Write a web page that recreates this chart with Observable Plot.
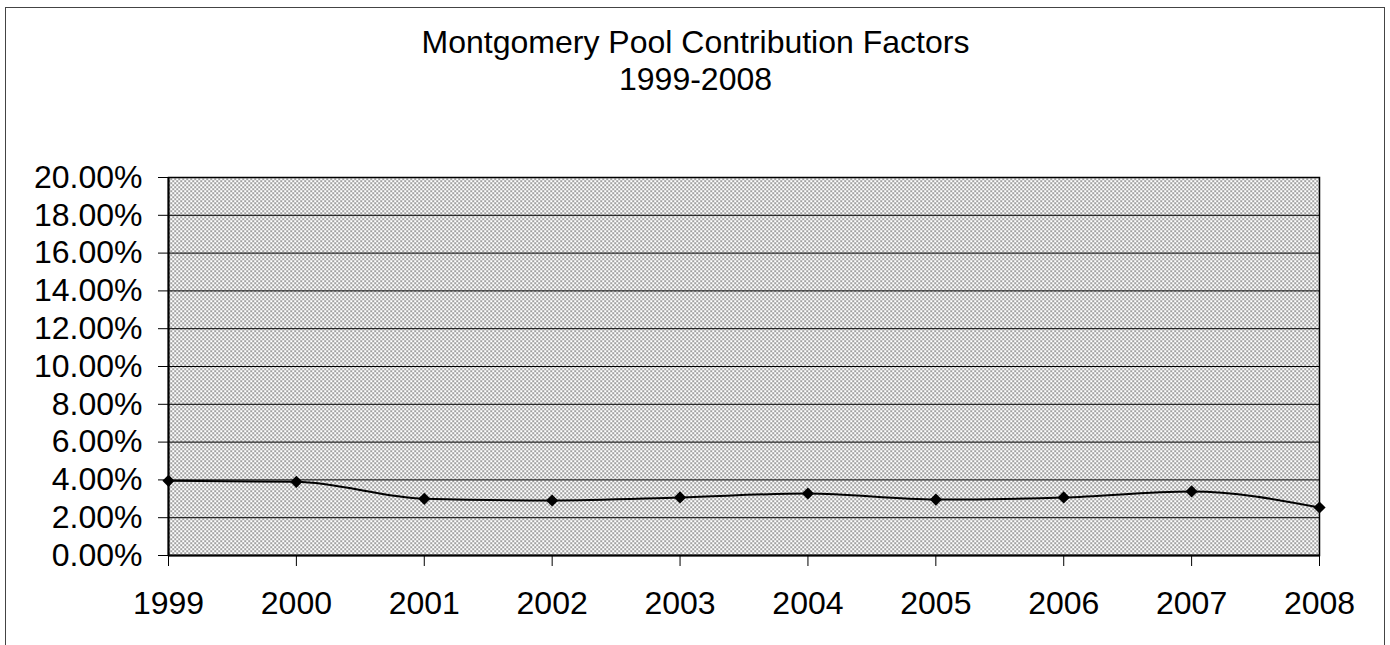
<!DOCTYPE html>
<html>
<head>
<meta charset="utf-8">
<script src="https://cdn.jsdelivr.net/npm/d3@7"></script>
<script src="https://cdn.jsdelivr.net/npm/@observablehq/plot@0.6"></script>
<style>
  html, body { margin: 0; padding: 0; background: #fff; }
  #wrap { position: relative; width: 1390px; height: 645px; overflow: hidden; font-family: "Liberation Sans", Arial, sans-serif; }
  #border { position: absolute; left: 5px; top: 7px; width: 1380px; height: 700px; border: 1.5px solid #444; box-sizing: border-box; }
  #title { position: absolute; left: 5px; width: 1381px; top: 24px; text-align: center; font-size: 32px; line-height: 37px; color: #000; }
  #chart { position: absolute; left: 0; top: 0; }
</style>
</head>
<body>
<div id="wrap">
  <div id="border"></div>
  <div id="title">Montgomery Pool Contribution Factors<br>1999-2008</div>
  <div id="chart"></div>
</div>
<script>
const years = [1999, 2000, 2001, 2002, 2003, 2004, 2005, 2006, 2007, 2008];
const factors = [0.0395, 0.039, 0.030, 0.0291, 0.0307, 0.0328, 0.0296, 0.0307, 0.0339, 0.0254];
const yTicks = [0, 0.02, 0.04, 0.06, 0.08, 0.10, 0.12, 0.14, 0.16, 0.18, 0.20];

const data = years.map((y, i) => ({year: y, value: factors[i]}));

const plot = Plot.plot({
  width: 1390,
  height: 645,
  marginLeft: 168,
  marginRight: 71,
  marginTop: 177,
  marginBottom: 90,
  style: {fontFamily: "'Liberation Sans', Arial, sans-serif", fontSize: "32px", color: "#000", background: "transparent", overflow: "visible"},
  x: {domain: [1999, 2008], label: null},
  y: {domain: [0, 0.20], label: null},
  marks: [
    Plot.frame({fill: "url(#dots)", stroke: "#000", strokeWidth: 1.5}),
    Plot.gridY(yTicks, {stroke: "#000", strokeOpacity: 1, strokeWidth: 1}),
    Plot.axisX({ticks: years, tickFormat: d3.format("d"), tickSize: 11, tickPadding: 25, fontSize: 32, stroke: "#000", label: null}),
    Plot.axisY({ticks: yTicks, tickFormat: d3.format(".2%"), tickSize: 10, tickPadding: 16, fontSize: 32, stroke: "#000", label: null}),
    Plot.ruleX([1999], {stroke: "#000", strokeWidth: 2}),
    Plot.ruleY([0], {stroke: "#000", strokeWidth: 2}),
    Plot.line(data, {x: "year", y: "value", curve: "monotone-x", stroke: "#000", strokeWidth: 2}),
    Plot.dot(data, {x: "year", y: "value", symbol: "diamond2", r: 5.5, fill: "#000", stroke: "none"})
  ]
});

const svg = d3.select(plot);
const defs = svg.insert("defs", ":first-child");
const pat = defs.append("pattern")
  .attr("id", "dots")
  .attr("patternUnits", "userSpaceOnUse")
  .attr("width", 4).attr("height", 4);
pat.append("rect").attr("width", 4).attr("height", 4).attr("fill", "#fff");
pat.append("rect").attr("x", 0).attr("y", 0).attr("width", 1.3).attr("height", 1.3).attr("fill", "#222");
pat.append("rect").attr("x", 2).attr("y", 2).attr("width", 1.3).attr("height", 1.3).attr("fill", "#222");

document.getElementById("chart").appendChild(plot);
</script>
</body>
</html>
